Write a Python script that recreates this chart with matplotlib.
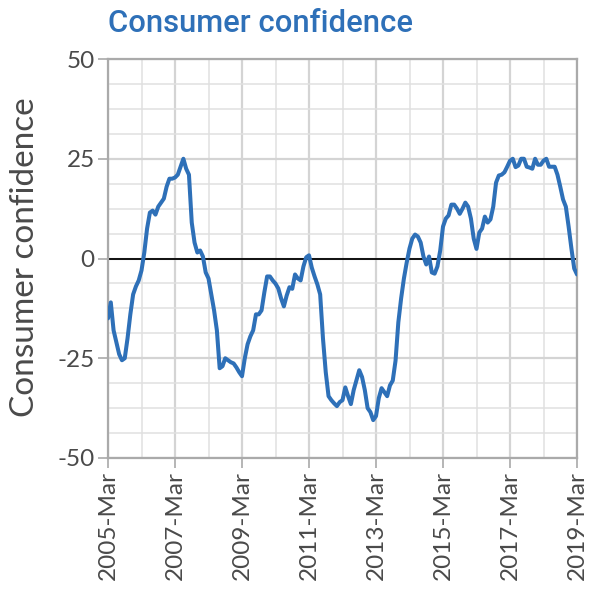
import matplotlib
matplotlib.use("Agg")
import matplotlib.pyplot as plt
import numpy as np
import pandas as pd
from matplotlib.ticker import MultipleLocator

start = "2005-03"
values = [
    -15, -11, -18, -21, -24, -25.5, -25, -20, -14, -9, -7, -5.5,
    -3, 1.5, 7.5, 11.5, 12, 11, 13, 14, 15, 18, 20, 20,
    20.3, 21, 23, 25, 22.5, 21, 9, 4, 1.5, 2, 0.5, -3.5,
    -5, -9, -13, -18, -27.5, -27, -25, -25.5, -26, -26.3, -27.3, -28.5,
    -29.5, -25, -21.5, -19.5, -18, -14, -14, -13, -8.5, -4.5, -4.5, -5.5,
    -6.3, -7.5, -10, -12, -9.3, -7.2, -7.6, -4, -5, -5.5, -2, 0.3,
    0.8, -2.3, -4.5, -6.5, -9, -20, -28.5, -34.5, -35.5, -36.3, -37, -36,
    -35.5, -32.3, -34.5, -36.5, -33, -30.5, -28, -29.7, -33, -37.5, -38.5, -40.5,
    -39.5, -35, -32.5, -33.5, -34.5, -31.8, -30.6, -25.6, -16, -10, -5, -1,
    2.5, 5, 6, 5.5, 4, 0.5, -1.5, 0.5, -3.5, -3.8, -2, 2,
    8, 10, 10.8, 13.5, 13.5, 12.5, 11.2, 12.5, 14, 13, 10, 5,
    2.4, 6.5, 7.5, 10.5, 9, 9.8, 13, 19, 20.8, 21, 21.6, 23,
    24.5, 25, 22.9, 23.3, 25, 25, 23, 22.8, 22.5, 25, 23.5, 23.5,
    24.5, 25, 23, 23, 23, 21, 18, 14.8, 13, 8, 2.5, -2.5,
    -4,
]
dates = pd.period_range(start, periods=len(values), freq="M")
xlabels = ["2005-Mar", "2007-Mar", "2009-Mar", "2011-Mar", "2013-Mar",
           "2015-Mar", "2017-Mar", "2019-Mar"]
yticks = [-50, -25, 0, 25, 50]
title = "Consumer confidence"
ylabel = "Consumer confidence"

x = np.arange(len(values))
fig = plt.figure(figsize=(5.9, 6.03), dpi=100)
ax = fig.add_axes([108/590, 1-458/603, (577-108)/590, (458-59)/603])

ax.set_xlim(0, len(values)-1)
ax.set_ylim(-50, 50)
ax.xaxis.set_major_locator(MultipleLocator(24))
ax.xaxis.set_minor_locator(MultipleLocator(12))
ax.yaxis.set_major_locator(MultipleLocator(25))
ax.yaxis.set_minor_locator(MultipleLocator(6.25))
ax.grid(which="major", color="#d4d4d4", linewidth=1.6)
ax.grid(which="minor", color="#e0e0e0", linewidth=1.1)
ax.set_axisbelow(True)

ax.axhline(0, color="black", linewidth=1.3, zorder=2)
ax.plot(x, values, color="#2e70b8", linewidth=2.9, zorder=3,
        solid_joinstyle="round", solid_capstyle="round")

tick_font = dict(fontsize=17.5, color="#4a4a4a", family="Lato", fontweight="normal")
ax.set_xticks(np.arange(0, len(values), 24))
ax.set_xticklabels(xlabels, rotation=90, **tick_font)
ax.set_yticks(yticks)
ax.set_yticklabels([str(v) for v in yticks], **tick_font)
ax.tick_params(which="major", length=7.5, width=1.3, color="#b0b0b0", pad=2)
ax.tick_params(which="minor", length=0)
for s in ax.spines.values():
    s.set_color("#aaaaaa")
    s.set_linewidth(1.6)

fig.text(25/590, 1-257/603, ylabel, fontsize=24, color="#4a4a4a",
         family="Lato", fontweight="normal", rotation=90,
         ha="center", va="center")
fig.text(108/590, 1-24/603, title, fontsize=22.3, color="#2e70b8",
         fontweight="medium", family="Roboto", ha="left", va="center")

fig.savefig("out.png", dpi=100)
